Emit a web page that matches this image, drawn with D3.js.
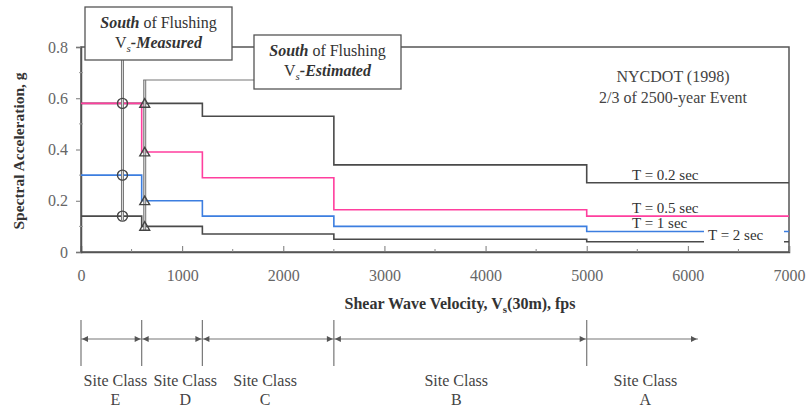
<!DOCTYPE html>
<html><head><meta charset="utf-8">
<script src="https://cdn.jsdelivr.net/npm/d3@7"></script>
<style>body{margin:0;background:#fff}svg{display:block}svg text{font-family:"Liberation Serif","Times New Roman",Tinos,"DejaVu Serif",serif !important}</style>
</head><body>
<svg id="c" width="806" height="409" font-family="Liberation Serif, Times New Roman, serif"></svg>
<script>
// ---- data ----
const breaks = [0, 600, 1200, 2500, 5000, 7000];
const seriesNames = ["T = 0.2 sec", "T = 0.5 sec", "T = 1 sec", "T = 2 sec"];
const t02 = [0.58, 0.58, 0.53, 0.34, 0.27];
const t05 = [0.58, 0.39, 0.29, 0.165, 0.14];
const t10 = [0.30, 0.20, 0.14, 0.10, 0.08];
const t20 = [0.14, 0.10, 0.07, 0.05, 0.04];
const measuredVs = 410;
const measuredVals = [0.58, 0.30, 0.14];
const estimatedVs = 630;
const estimatedVals = [0.58, 0.39, 0.20, 0.10];
const xTicks = [0, 1000, 2000, 3000, 4000, 5000, 6000, 7000];
const xMinorTicks = [500, 1500, 2500, 3500, 4500, 5500, 6500];
const yTicks = [0, 0.2, 0.4, 0.6, 0.8];
const yMinorTicks = [0.1, 0.3, 0.5, 0.7];
const siteClasses = ["E", "D", "C", "B", "A"];
const siteBounds = [0, 600, 1200, 2500, 5000, 6100];
const siteLabelAt = [340, 1030, 1820, 3710, 5580];

const FONT = '"Liberation Serif","Times New Roman",serif';
const svg = d3.select("#c");
const x = d3.scaleLinear().domain([0, 7000]).range([81, 789]);
const y = d3.scaleLinear().domain([0, 0.8]).range([252, 47]);
const ink = "#555";

// frame
svg.append("rect").attr("x", x(0)).attr("y", y(0.8)).attr("width", x(7000) - x(0)).attr("height", y(0) - y(0.8))
  .attr("fill", "none").attr("stroke", ink).attr("stroke-width", 1.5);

// axes
const xa = svg.append("g").attr("transform", `translate(0,${y(0)})`)
  .call(d3.axisBottom(x).tickValues(xTicks).tickSize(-6).tickPadding(18).tickFormat(d3.format("d")));
xa.attr("font-family", FONT);
xa.select(".domain").attr("stroke", ink).attr("stroke-width", 1.5);
xa.selectAll(".tick line").attr("stroke", "#777");
xa.selectAll("text").attr("font-size", 16).attr("fill", "#666");
svg.append("g").selectAll("line").data(xMinorTicks).join("line")
  .attr("x1", d => x(d)).attr("x2", d => x(d)).attr("y1", y(0)).attr("y2", y(0) - 3).attr("stroke", "#888");

const ya = svg.append("g").attr("transform", `translate(${x(0)},0)`)
  .call(d3.axisLeft(y).tickValues(yTicks).tickSize(5).tickPadding(8).tickFormat(d => d === 0 ? "0" : d3.format(".1f")(d)));
ya.attr("font-family", FONT);
ya.select(".domain").attr("stroke", ink).attr("stroke-width", 1.5);
ya.selectAll(".tick line").attr("stroke", "#777");
ya.selectAll("text").attr("font-size", 16).attr("fill", "#666");
svg.append("g").selectAll("line").data(yMinorTicks).join("line")
  .attr("x1", x(0) - 2).attr("x2", x(0) + 2).attr("y1", d => y(d)).attr("y2", d => y(d)).attr("stroke", "#999");

// series
const stepLine = d3.line().x(d => x(d[0])).y(d => y(d[1])).curve(d3.curveStepAfter);
function pts(vals) {
  const p = vals.map((v, i) => [breaks[i], v]);
  p.push([breaks[breaks.length - 1], vals[vals.length - 1]]);
  return p;
}
const series = [
  { vals: t02, color: "#4a4a4a" },
  { vals: t20, color: "#4a4a4a" },
  { vals: t10, color: "#3c7ee0" },
  { vals: t05, color: "#ff3f9e" }
];
svg.append("g").selectAll("path").data(series).join("path")
  .attr("d", d => stepLine(pts(d.vals))).attr("fill", "none").attr("stroke", d => d.color).attr("stroke-width", 1.6);

// marker vertical lines (double)
function dbl(x0, y1, y2) {
  svg.append("line").attr("x1", x0).attr("x2", x0).attr("y1", y1).attr("y2", y2).attr("stroke", "#777").attr("stroke-width", 3);
  svg.append("line").attr("x1", x0).attr("x2", x0).attr("y1", y1).attr("y2", y2).attr("stroke", "#ddd").attr("stroke-width", 1);
}
dbl(x(measuredVs), 60, y(d3.min(measuredVals)) + 4);
dbl(x(estimatedVs), 80, y(d3.min(estimatedVals)) + 4);
svg.append("line").attr("x1", x(estimatedVs) - 1.5).attr("x2", 254).attr("y1", 80).attr("y2", 80).attr("stroke", "#777").attr("stroke-width", 1.2);

svg.append("g").selectAll("circle").data(measuredVals).join("circle")
  .attr("cx", x(measuredVs)).attr("cy", d => y(d)).attr("r", 5)
  .attr("fill", "none").attr("stroke", "#444").attr("stroke-width", 1.4);
const tri = d3.symbol().type(d3.symbolTriangle).size(42);
svg.append("g").selectAll("path").data(estimatedVals).join("path")
  .attr("transform", d => `translate(${x(estimatedVs)},${y(d) + 1})`).attr("d", tri)
  .attr("fill", "none").attr("stroke", "#444").attr("stroke-width", 1.4);

// annotation boxes
function box(x0, y0, w, h, cx, b1, b2, word) {
  svg.append("rect").attr("x", x0).attr("y", y0).attr("width", w).attr("height", h)
    .attr("fill", "#fff").attr("stroke", ink).attr("stroke-width", 1.3);
  const t1 = svg.append("text").attr("x", cx).attr("y", b1).attr("text-anchor", "middle").attr("font-size", 16).attr("fill", "#333");
  t1.append("tspan").attr("font-weight", "bold").attr("font-style", "italic").text("South");
  t1.append("tspan").text(" of Flushing");
  const t2 = svg.append("text").attr("x", cx).attr("y", b2).attr("text-anchor", "middle").attr("font-size", 16).attr("fill", "#333");
  t2.append("tspan").text("V");
  t2.append("tspan").attr("font-size", 11).attr("font-style", "italic").attr("dy", 4).text("s");
  t2.append("tspan").attr("dy", -4).attr("font-weight", "bold").attr("font-style", "italic").text("-" + word);
}
box(85, 7, 147, 53, 158.5, 28, 48, "Measured");
box(254, 35, 147, 54, 327.5, 56, 76, "Estimated");

// NYCDOT note
svg.append("text").attr("x", 673).attr("y", 82).attr("text-anchor", "middle").attr("font-size", 16).attr("fill", "#444").text("NYCDOT (1998)");
svg.append("text").attr("x", 673).attr("y", 103).attr("text-anchor", "middle").attr("font-size", 16).attr("fill", "#444").text("2/3 of 2500-year Event");

// series labels
svg.append("rect").attr("x", 704).attr("y", 227).attr("width", 80).attr("height", 16).attr("fill", "#fff");
const labelPos = [[632, 180], [632, 213], [632, 228], [708, 240]];
svg.append("g").selectAll("text").data(seriesNames).join("text")
  .attr("x", (d, i) => labelPos[i][0]).attr("y", (d, i) => labelPos[i][1])
  .attr("font-size", 15).attr("fill", "#333").text(d => d);

// axis titles
svg.append("text").attr("transform", "translate(24,151) rotate(-90)").attr("text-anchor", "middle")
  .attr("font-size", 15.5).attr("font-weight", "bold").attr("fill", "#333").text("Spectral Acceleration, g");
const xt = svg.append("text").attr("x", 460).attr("y", 309).attr("text-anchor", "middle").attr("font-size", 16).attr("font-weight", "bold").attr("fill", "#333");
xt.append("tspan").text("Shear Wave Velocity, V");
xt.append("tspan").attr("font-size", 11).attr("dy", 4).text("s");
xt.append("tspan").attr("dy", -4).text("(30m), fps");

// site classes
const sc = svg.append("g");
sc.selectAll("line.v").data(siteBounds.slice(0, 5)).join("line").attr("class", "v")
  .attr("x1", d => x(d)).attr("x2", d => x(d)).attr("y1", 320).attr("y2", 366).attr("stroke", "#777").attr("stroke-width", 1.2);
const ay = 339;
siteClasses.forEach((c, i) => {
  const a = x(siteBounds[i]), b = x(siteBounds[i + 1]);
  sc.append("line").attr("x1", a).attr("x2", b).attr("y1", ay).attr("y2", ay).attr("stroke", "#777").attr("stroke-width", 1.1);
  if (i < 4) sc.append("path").attr("d", `M${a + 1},${ay}L${a + 7},${ay - 3}L${a + 7},${ay + 3}Z`).attr("fill", "#555");
  sc.append("path").attr("d", `M${b - 1},${ay}L${b - 7},${ay - 3}L${b - 7},${ay + 3}Z`).attr("fill", "#555");
  sc.append("text").attr("x", x(siteLabelAt[i])).attr("y", 386).attr("text-anchor", "middle").attr("font-size", 16).attr("fill", "#444").text("Site Class");
  sc.append("text").attr("x", x(siteLabelAt[i])).attr("y", 405).attr("text-anchor", "middle").attr("font-size", 16).attr("fill", "#444").text(c);
});
</script>
</body></html>
